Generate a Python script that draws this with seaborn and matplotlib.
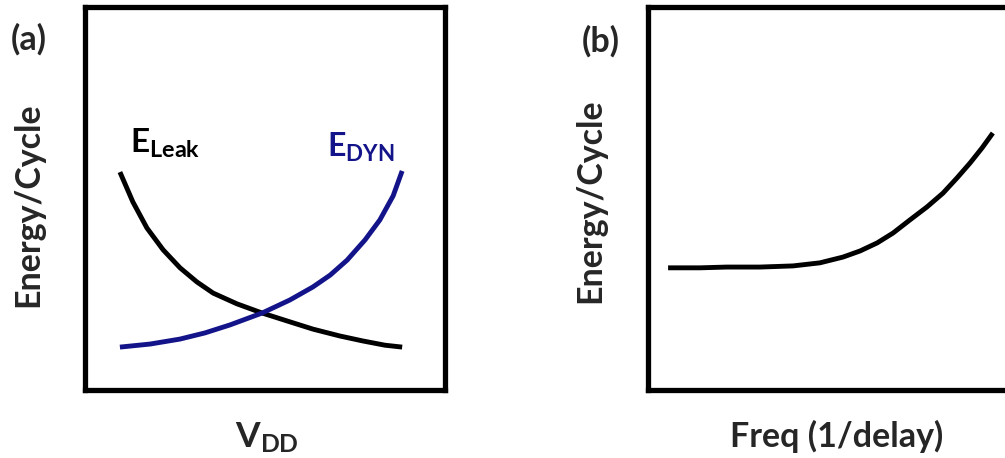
import numpy as np
import pandas as pd
import matplotlib
matplotlib.use("Agg")
import matplotlib.pyplot as plt
import seaborn as sns

# ---- data (arbitrary units 0-10) ----
leak_x = [0.97, 1.33, 1.72, 2.17, 2.64, 3.11, 3.56, 4.22, 4.92, 5.69, 6.33, 7.08, 7.72, 8.33, 8.81]
leak_y = [5.69, 4.91, 4.23, 3.66, 3.19, 2.82, 2.53, 2.25, 2.01, 1.78, 1.59, 1.41, 1.28, 1.17, 1.12]
dyn_x = [0.97, 1.81, 2.64, 3.33, 4.03, 4.92, 5.69, 6.33, 6.81, 7.28, 7.78, 8.19, 8.56, 8.81]
dyn_y = [1.12, 1.20, 1.33, 1.49, 1.70, 2.01, 2.35, 2.69, 3.00, 3.39, 3.92, 4.44, 5.07, 5.72]
freq_x = [0.54, 1.40, 2.12, 3.01, 3.90, 4.62, 5.24, 5.70, 6.16, 6.59, 7.04, 7.50, 7.93, 8.31, 8.66, 8.98, 9.27]
freq_y = [3.19, 3.19, 3.21, 3.21, 3.24, 3.32, 3.47, 3.63, 3.84, 4.10, 4.44, 4.78, 5.14, 5.54, 5.93, 6.32, 6.71]

panel_labels = ["(a)", "(b)"]
y_label = "Energy/Cycle"
x_label_a = r"$\mathbf{V}_{\mathbf{DD}}$"
x_label_b = "Freq (1/delay)"
leak_label = r"$\mathbf{E}_{\mathbf{Leak}}$"
dyn_label = r"$\mathbf{E}_{\mathbf{DYN}}$"

sns.set_style("white")
plt.rcParams['font.family'] = ['Lato', 'DejaVu Sans']
plt.rcParams['mathtext.fontset'] = 'custom'
plt.rcParams['mathtext.rm'] = 'Lato:bold'
plt.rcParams['mathtext.bf'] = 'Lato:bold'
plt.rcParams['mathtext.it'] = 'Lato:bold'
plt.rcParams['lines.solid_capstyle'] = 'butt'
plt.rcParams['lines.solid_joinstyle'] = 'round'

NAVY = "#14148a"

fig = plt.figure(figsize=(10.05, 4.58), dpi=100)
W, H = 1005, 458
axa = fig.add_axes([85 / W, (458 - 390) / H, 360 / W, 383 / H])
axb = fig.add_axes([648 / W, (458 - 390) / H, 372 / W, 383 / H])

df_leak = pd.DataFrame({"x": leak_x, "y": leak_y})
df_dyn = pd.DataFrame({"x": dyn_x, "y": dyn_y})
df_freq = pd.DataFrame({"x": freq_x, "y": freq_y})

sns.lineplot(data=df_leak, x="x", y="y", ax=axa, color="black", lw=3.5)
sns.lineplot(data=df_dyn, x="x", y="y", ax=axa, color=NAVY, lw=3.5)
sns.lineplot(data=df_freq, x="x", y="y", ax=axb, color="black", lw=3.5)

for ax in (axa, axb):
    ax.set_xlim(0, 10)
    ax.set_ylim(0, 10)
    ax.set_xticks([])
    ax.set_yticks([])
    for s in ax.spines.values():
        s.set_visible(True)
        s.set_color("black")
        s.set_linewidth(3.8)
    ax.set_facecolor("white")

fs = 24.5
axa.set_ylabel(y_label, fontsize=fs, fontweight="bold", va="center")
axa.yaxis.set_label_coords(-0.158, 0.483)
axb.set_ylabel(y_label, fontsize=fs, fontweight="bold", va="center")
axb.yaxis.set_label_coords(-0.154, 0.493)

axa.set_xlabel(x_label_a, fontsize=fs + 1, va="center")
axa.xaxis.set_label_coords((267 - 85) / 360, -0.125)
axb.set_xlabel(x_label_b, fontsize=fs, fontweight="bold", va="center")
axb.xaxis.set_label_coords((837 - 648) / 372, -0.12)

fig.text(29 / W, 1 - 39 / H, panel_labels[0], fontsize=fs, fontweight="bold", ha="center", va="center")
fig.text(601 / W, 1 - 41 / H, panel_labels[1], fontsize=fs, fontweight="bold", ha="center", va="center")

axa.text(0.125, 0.619, leak_label, transform=axa.transAxes,
         fontsize=24, color="black", ha="left", va="baseline")
axa.text(0.672, 0.608, dyn_label, transform=axa.transAxes,
         fontsize=23, color=NAVY, ha="left", va="baseline")

fig.savefig("out.png", dpi=100, facecolor="white")
